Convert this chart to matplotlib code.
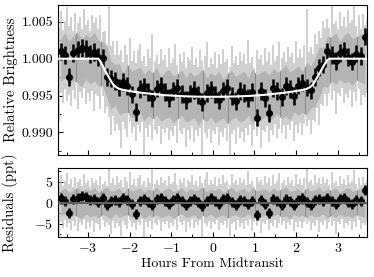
import numpy as np
import matplotlib
matplotlib.use("Agg")
import matplotlib.pyplot as plt
from matplotlib.ticker import MultipleLocator, FormatStrFormatter

plt.rcParams['font.family'] = ['cmr10', 'DejaVu Serif']
plt.rcParams['mathtext.fontset'] = 'cm'
plt.rcParams['axes.formatter.use_mathtext'] = True
plt.rcParams['font.size'] = 10

# ---- data ----
# time grid of model / raw-data envelope (hours from midtransit)
grid_t = np.round(np.arange(-3.75, 3.7501, 0.05), 3)

model_flux = ([1.0] * 21 +
    [0.9996, 0.9991, 0.9985, 0.9980, 0.9975, 0.9970, 0.99655, 0.99625, 0.99605, 0.99590] +
    [0.99582, 0.99575, 0.99570, 0.99565, 0.99560, 0.99555, 0.99551, 0.99548, 0.99544, 0.99540] +
    [0.99536, 0.99533, 0.99530, 0.99527, 0.99524, 0.99520, 0.99517, 0.99515, 0.99512, 0.99510] +
    [0.99507, 0.99505, 0.99502, 0.99500, 0.99498, 0.99497, 0.99495, 0.99494, 0.99492, 0.99491] +
    [0.99490, 0.99489, 0.99488, 0.99487, 0.99486, 0.99485, 0.99485, 0.99484, 0.99484, 0.99483] +
    [0.99483, 0.99482, 0.99482, 0.99482, 0.99482, 0.99482, 0.99482, 0.99482, 0.99483, 0.99483] +
    [0.99484, 0.99484, 0.99485, 0.99485, 0.99486, 0.99487, 0.99488, 0.99489, 0.99490, 0.99491] +
    [0.99492, 0.99494, 0.99495, 0.99497, 0.99498, 0.99500, 0.99502, 0.99505, 0.99507, 0.99510] +
    [0.99512, 0.99515, 0.99517, 0.99520, 0.99524, 0.99527, 0.99530, 0.99533, 0.99536, 0.99540] +
    [0.99544, 0.99548, 0.99551, 0.99555, 0.99560, 0.99565, 0.99570, 0.99575, 0.99582, 0.99590] +
    [0.99603, 0.99620, 0.99648, 0.9969, 0.9974, 0.9979, 0.9984, 0.9989, 0.9994, 0.9998] +
    [1.0] * 20)

# raw data envelope: upper / lower extent of individual points (ppt from model)
raw_upper_ppt = [
    5.8, 4.2, 6.5, 3.9, 5.1, 7.0, 4.4, 5.6, 3.8, 6.2,
    4.9, 5.7, 4.0, 6.8, 4.6, 5.3, 3.7, 6.0, 4.8, 5.5,
    4.1, 6.3, 4.5, 5.2, 3.9, 10.5, 4.7, 5.9, 4.3, 6.4,
    4.6, 5.4, 3.8, 6.1, 4.9, 7.2, 4.2, 5.6, 4.0, 5.8,
    6.6, 4.3, 5.1, 3.7, 6.0, 4.8, 8.2, 4.5, 5.3, 4.1,
    6.2, 4.7, 5.5, 3.9, 6.4, 4.4, 5.0, 7.1, 4.2, 5.7,
    4.6, 6.0, 3.8, 5.4, 4.9, 6.7, 4.3, 5.2, 4.0, 6.3,
    4.8, 5.6, 7.4, 4.1, 5.3, 4.5, 6.1, 3.9, 5.8, 4.4,
    6.5, 4.7, 5.1, 4.0, 6.9, 4.6, 5.5, 4.2, 6.0, 4.8,
    5.7, 4.3, 7.6, 4.5, 5.2, 3.8, 6.2, 4.9, 5.4, 4.1,
    6.4, 4.6, 5.8, 4.0, 6.6, 4.4, 5.1, 7.0, 4.7, 5.5,
    4.2, 6.1, 4.8, 5.3, 3.9, 6.8, 4.5, 5.6, 4.3, 6.0,
    10.8, 4.9, 5.4, 4.1, 6.5, 4.6, 5.9, 4.4, 6.2, 4.8,
    5.6, 4.2, 7.3, 4.7, 5.1, 4.0, 6.3, 4.5, 5.7, 4.3,
    6.6, 4.8, 5.2, 7.8, 4.4, 5.9, 4.1, 6.1, 4.6, 5.3, 5.0]
raw_lower_ppt = [
    5.2, 8.4, 4.6, 6.0, 4.1, 5.7, 4.9, 6.4, 4.3, 5.5,
    6.8, 4.5, 5.3, 4.0, 6.2, 4.7, 5.8, 4.4, 7.1, 4.8,
    5.1, 6.5, 4.2, 5.9, 4.6, 5.4, 7.4, 4.3, 6.1, 4.9,
    5.6, 8.0, 4.4, 5.2, 6.3, 4.1, 5.7, 4.8, 6.6, 4.5,
    5.3, 4.0, 8.4, 4.7, 5.9, 4.3, 6.2, 4.9, 5.4, 4.2,
    6.7, 4.6, 5.1, 4.4, 6.0, 4.8, 5.5, 4.1, 6.4, 4.7,
    5.2, 4.3, 6.9, 4.5, 5.8, 4.0, 6.1, 4.6, 5.3, 4.2,
    8.1, 4.9, 5.6, 4.4, 6.3, 4.7, 5.0, 4.1, 6.6, 4.8,
    5.4, 4.3, 6.0, 8.0, 5.1, 4.5, 6.4, 4.2, 5.7, 4.9,
    6.2, 4.4, 5.3, 4.0, 6.8, 4.6, 5.5, 4.3, 7.2, 4.7,
    5.1, 4.2, 6.5, 4.8, 5.6, 4.1, 6.0, 4.9, 5.4, 4.3,
    6.3, 4.5, 5.2, 4.0, 6.7, 4.6, 5.8, 4.4, 6.1, 4.7,
    5.0, 4.3, 6.4, 4.8, 5.5, 4.1, 6.9, 4.5, 5.3, 4.2,
    6.2, 4.7, 5.6, 4.4, 7.5, 4.6, 5.1, 4.0, 6.0, 4.8,
    5.4, 4.3, 6.6, 4.5, 5.7, 4.1, 6.3, 4.9, 5.2, 4.6, 5.0]

# binned points: every other grid sample, from t = -3.65 to 3.65
bin_resid_ppt = [
    1.0, 0.5, -2.5, 0.8, 1.2, 1.5, 1.3, 0.6, 0.9, 0.2,
    1.0, -0.5, 0.3, 0.7, 0.2, 1.1, 0.6, -0.4, -2.7, 0.5,
    0.9, 0.2, -0.6, 0.8, 1.2, 0.4, -0.3, 0.6, 1.1, 0.3,
    -0.5, 0.4, 0.9, 0.2, -0.7, 0.5, 1.0, 0.3, -0.4, 0.8,
    1.2, 0.1, -0.6, 0.7, 0.4, -0.3, 0.5, -3.0, 0.6, -0.4,
    -2.5, 0.8, 0.3, -0.5, 0.9, 0.4, -0.6, 0.7, 1.0, 0.2,
    -0.5, 0.6, 0.9, 0.3, 1.2, 0.5, -0.3, 0.8, 1.1, 0.2,
    -0.4, 0.7, 0.4, 3.0]
bin_err_ppt = 1.2

# dense core of the raw points around the model (ppt), at the binned times
core_upper_ppt = [
    2.8, 3.5, 2.4, 3.1, 3.7, 2.6, 3.3, 2.9, 3.6, 2.5,
    3.2, 3.8, 2.7, 3.0, 3.4, 2.3, 3.6, 2.8, 3.1, 3.5,
    2.6, 3.3, 2.9, 3.7, 2.4, 3.2, 3.5, 2.7, 3.0, 3.6,
    2.5, 3.4, 2.8, 3.1, 3.8, 2.6, 3.3, 2.9, 3.5, 2.4,
    3.2, 3.6, 2.7, 3.0, 3.4, 2.5, 3.7, 2.8, 3.1, 3.3,
    2.6, 3.5, 2.9, 3.2, 3.8, 2.7, 3.0, 3.4, 2.5, 3.6,
    2.8, 3.1, 3.7, 2.6, 3.3, 2.9, 3.5, 2.4, 3.2, 3.6,
    2.7, 3.0, 3.4, 2.8]
core_lower_ppt = [
    3.1, 2.6, 3.6, 2.9, 3.3, 3.8, 2.7, 3.4, 3.0, 3.7,
    2.8, 3.2, 3.9, 2.6, 3.5, 3.1, 2.9, 3.6, 3.3, 2.7,
    3.8, 3.0, 3.4, 2.8, 3.6, 3.2, 2.9, 3.7, 3.1, 2.6,
    3.5, 3.3, 2.8, 3.9, 3.0, 3.4, 2.7, 3.6, 3.2, 2.9,
    3.7, 3.1, 2.8, 3.5, 3.3, 2.6, 3.8, 3.0, 3.4, 2.9,
    3.6, 3.2, 2.7, 3.5, 3.1, 3.9, 2.8, 3.3, 3.0, 3.6,
    2.9, 3.4, 3.2, 2.7, 3.7, 3.0, 3.5, 2.8, 3.3, 3.1,
    3.6, 2.9, 3.2, 3.4]

xlabel = "Hours From Midtransit"
ylabel_top = "Relative Brightness"
ylabel_bot = "Residuals (ppt)"

# ---- derived arrays ----
grid_t = np.asarray(grid_t)
model = np.asarray(model_flux)
up = np.asarray(raw_upper_ppt)
lo = np.asarray(raw_lower_ppt)
bin_t = grid_t[2:149:2]
bin_model = model[2:149:2]
bres = np.asarray(bin_resid_ppt)
bflux = bin_model + bres / 1000.0
cu = np.asarray(core_upper_ppt)
cl = np.asarray(core_lower_ppt)

LIGHT = '#c2c2c2'
DARK = '#8a8a8a'

fig = plt.figure(figsize=(3.74, 2.77), dpi=100)
ax1 = fig.add_axes([0.155, 0.440, 0.826, 0.542])
ax2 = fig.add_axes([0.155, 0.144, 0.826, 0.250])

# top panel
ax1.vlines(grid_t, model - lo / 1000, model + up / 1000, color=LIGHT, lw=1.1)
ax1.fill_between(bin_t, bin_model - cl / 1000, bin_model + cu / 1000, color=DARK, lw=0)
ax1.errorbar(bin_t, bflux, yerr=bin_err_ppt / 1000, fmt='o', color='black', ms=4,
             elinewidth=1.8, capsize=0)
ax1.plot(grid_t, model, color='white', lw=1.5, zorder=5)

# bottom panel
ax2.vlines(grid_t, -lo, up, color=LIGHT, lw=1.1)
ax2.fill_between(bin_t, -cl, cu, color=DARK, lw=0)
ax2.errorbar(bin_t, bres, yerr=bin_err_ppt, fmt='o', color='black', ms=4,
             elinewidth=1.8, capsize=0)
ax2.axhline(0, color='#606060', lw=1.5, zorder=5)

for ax in (ax1, ax2):
    ax.set_xlim(-3.72, 3.70)
    ax.xaxis.set_major_locator(MultipleLocator(1))
    ax.xaxis.set_minor_locator(MultipleLocator(0.5))
    ax.tick_params(which='both', direction='in', top=False, right=False)
    ax.tick_params(which='major', length=3.5, width=0.8)
    ax.tick_params(which='minor', length=2, width=0.6)

ax1.set_ylim(0.9869, 1.0073)
ax1.yaxis.set_major_locator(MultipleLocator(0.005))
ax1.yaxis.set_minor_locator(MultipleLocator(0.0025))
ax1.yaxis.set_major_formatter(FormatStrFormatter('%.3f'))
ax1.tick_params(labelbottom=False)
ax1.set_ylabel(ylabel_top, fontsize=10.5)
ax1.yaxis.set_label_coords(-0.13, 0.5)

ax2.set_ylim(-8.2, 8.3)
ax2.yaxis.set_major_locator(MultipleLocator(5))
ax2.yaxis.set_minor_locator(MultipleLocator(2.5))
ax2.set_ylabel(ylabel_bot, fontsize=10.5)
ax2.yaxis.set_label_coords(-0.13, 0.5)
ax2.set_xlabel(xlabel, labelpad=2)

fig.savefig('out.png', dpi=100)
